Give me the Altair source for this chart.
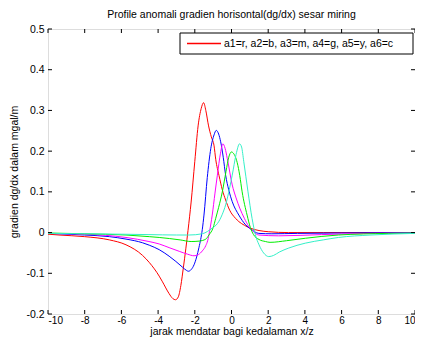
import altair as alt
import pandas as pd

# ---- data ----
red_x = [-10, -9.4, -8, -6.65, -5.75, -4.85, -4.47, -3.94, -3.76, -3.4, -3.2, -3.05, -2.9, -2.76, -2.62,
         -2.49, -2.37, -2.2, -2.0, -1.82, -1.65, -1.52, -1.4, -1.25, -1.1, -0.95, -0.86, -0.68, -0.5,
         -0.32, -0.1, 0.22, 0.4, 0.7, 1.04, 1.5, 2.03, 3.1, 5, 7, 10]
red_y = [-0.004, -0.006, -0.010, -0.018, -0.030, -0.056, -0.074, -0.107, -0.121, -0.150, -0.162, -0.165,
         -0.158, -0.130, -0.085, -0.040, 0.005, 0.075, 0.175, 0.262, 0.305, 0.319, 0.300, 0.262, 0.235,
         0.213, 0.18, 0.14, 0.105, 0.08, 0.055, 0.035, 0.027, 0.018, 0.0105, 0.005, 0.002, 0.0, 0.0, 0.0, 0.0]

blue_x = [-10, -9.37, -8, -6.65, -5.75, -4.85, -4.48, -3.94, -3.4, -3.03, -2.67, -2.45, -2.35, -2.2, -2.04,
          -1.9, -1.77, -1.59, -1.5, -1.32, -1.13, -0.95, -0.83, -0.7, -0.59, -0.45, -0.32, -0.15, 0.04,
          0.4, 0.77, 1.04, 1.49, 2.2, 3.6, 6, 10]
blue_y = [-0.002, -0.003, -0.006, -0.010, -0.016, -0.025, -0.031, -0.042, -0.058, -0.071, -0.085, -0.093,
          -0.095, -0.091, -0.079, -0.060, -0.036, 0.008, 0.043, 0.135, 0.206, 0.240, 0.251, 0.242, 0.223,
          0.185, 0.141, 0.105, 0.076, 0.043, 0.019, 0.009, -0.002, -0.003, -0.002, -0.001, 0.0]

mag_x = [-10, -8, -5.75, -4.5, -3.94, -3.4, -2.85, -2.4, -2.04, -1.8, -1.59, -1.4, -1.3, -1.2, -1.05,
         -0.9, -0.77, -0.6, -0.47, -0.35, -0.23, 0.04, 0.25, 0.45, 0.7, 0.94, 1.2, 1.49, 2.57, 4.9, 7.6, 10]
mag_y = [-0.002, -0.004, -0.012, -0.022, -0.028, -0.037, -0.046, -0.053, -0.057, -0.054, -0.045, -0.032,
         -0.020, 0.002, 0.043, 0.097, 0.141, 0.195, 0.218, 0.207, 0.182, 0.117, 0.085, 0.060, 0.035, 0.015,
         0.002, -0.006, -0.008, -0.005, -0.002, -0.001]

green_x = [-10, -8, -5.75, -4.48, -3.94, -2.8, -2.2, -1.77, -1.4, -1.23, -1.0, -0.86, -0.7, -0.5, -0.3,
           -0.15, 0.0, 0.1, 0.31, 0.45, 0.58, 0.85, 1.03, 1.2, 1.5, 1.85, 2.1, 3.0, 4.02, 5.83, 8.54, 10]
green_y = [-0.001, -0.003, -0.006, -0.010, -0.012, -0.018, -0.022, -0.021, -0.016, -0.006, 0.012, 0.035,
           0.062, 0.100, 0.150, 0.185, 0.198, 0.195, 0.172, 0.140, 0.100, 0.043, 0.012, -0.005, -0.017,
           -0.022, -0.024, -0.020, -0.014, -0.006, -0.002, -0.001]

cyan_x = [-10, -6, -4.5, -3, -2.31, -1.59, -1.3, -1.05, -0.77, -0.5, -0.32, -0.1, 0.04, 0.25, 0.44, 0.55,
          0.67, 0.9, 1.12, 1.3, 1.5, 1.75, 2.03, 2.3, 2.6, 3.12, 4.02, 5.0, 5.83, 7.6, 10]
cyan_y = [-0.002, -0.004, -0.005, -0.006, -0.006, -0.003, 0.003, 0.011, 0.022, 0.045, 0.068, 0.110, 0.141,
          0.192, 0.218, 0.210, 0.174, 0.100, 0.035, -0.005, -0.030, -0.050, -0.059, -0.056, -0.048, -0.038,
          -0.026, -0.018, -0.012, -0.006, -0.002]

series_names = ["a1", "a2", "a3", "a4", "a6"]
series_colors = ["#ff0000", "#0000ff", "#ff00ff", "#00ee00", "#33f0c8"]
series_x = [red_x, blue_x, mag_x, green_x, cyan_x]
series_y = [red_y, blue_y, mag_y, green_y, cyan_y]

x_ticks = [-10, -8, -6, -4, -2, 0, 2, 4, 6, 8, 10]
y_ticks = [-0.2, -0.1, 0, 0.1, 0.2, 0.3, 0.4, 0.5]

title_text = "Profile anomali gradien horisontal(dg/dx) sesar miring"
x_title = "jarak mendatar bagi kedalaman x/z"
y_title = "gradien dg/dx dalam mgal/m"
legend_text = "a1=r, a2=b, a3=m, a4=g, a5=y, a6=c"

# ---- build ----
W, H = 367, 285
FONT = "Liberation Sans"
FS = 10.5

rows = []
for i, (nm, xs, ys) in enumerate(zip(series_names, series_x, series_y)):
    for j, (a, b) in enumerate(zip(xs, ys)):
        rows.append({"s": nm, "order": i, "i": j, "x": a, "y": b})
df = pd.DataFrame(rows)

xscale = alt.Scale(domain=[-10, 10], nice=False)
yscale = alt.Scale(domain=[-0.2, 0.5], nice=False)

xaxis = alt.Axis(values=x_ticks, ticks=False, domain=False, grid=False, labelPadding=1,
                 labelOverlap=False, labelFont=FONT, labelFontSize=10, labelColor="black",
                 labelExpr="toString(datum.value)", title=x_title,
                 titleBaseline="alphabetic", titleY=20,
                 titleFont=FONT, titleFontSize=FS, titleFontWeight="normal", titleColor="black")
yaxis = alt.Axis(values=y_ticks, ticks=False, domain=False, grid=False, labelPadding=4,
                 labelOverlap=False, labelFont=FONT, labelFontSize=FS, labelColor="black",
                 labelExpr="datum.value == 0 ? '0' : toString(round(datum.value*10)/10)",
                 title=y_title, titlePadding=6,
                 titleFont=FONT, titleFontSize=FS, titleFontWeight="normal", titleColor="black")

lines = alt.Chart(df).mark_line(strokeWidth=1, interpolate="monotone", clip=True).encode(
    x=alt.X("x:Q", scale=xscale, axis=xaxis, title=x_title),
    y=alt.Y("y:Q", scale=yscale, axis=yaxis, title=y_title),
    color=alt.Color("s:N", scale=alt.Scale(domain=series_names, range=series_colors), legend=None),
    detail="s:N",
    order="i:Q",
)

xt = pd.DataFrame({"x": x_ticks})
yt = pd.DataFrame({"y": y_ticks})
tick_b = alt.Chart(xt).mark_rule(color="black", strokeWidth=1).encode(
    x=alt.X("x:Q", scale=xscale, axis=xaxis, title=x_title), y=alt.value(H), y2=alt.value(H - 4))
tick_t = alt.Chart(xt).mark_rule(color="black", strokeWidth=1).encode(
    x=alt.X("x:Q", scale=xscale, axis=xaxis, title=x_title), y=alt.value(0), y2=alt.value(4))
tick_l = alt.Chart(yt).mark_rule(color="black", strokeWidth=1).encode(
    y=alt.Y("y:Q", scale=yscale, axis=yaxis, title=y_title), x=alt.value(0), x2=alt.value(4))
tick_r = alt.Chart(yt).mark_rule(color="black", strokeWidth=1).encode(
    y=alt.Y("y:Q", scale=yscale, axis=yaxis, title=y_title), x=alt.value(W), x2=alt.value(W - 4))

leg = pd.DataFrame({"t": [legend_text]})
leg_box = alt.Chart(leg).mark_rect(fill="white", stroke="black", strokeWidth=1).encode(
    x=alt.value(132), x2=alt.value(365), y=alt.value(4), y2=alt.value(25))
leg_line = alt.Chart(leg).mark_rule(stroke="#ff0000", strokeWidth=1.3).encode(
    x=alt.value(139), x2=alt.value(173), y=alt.value(14.5), color=alt.value("#ff0000"))
leg_txt = alt.Chart(leg).mark_text(align="left", baseline="middle", font=FONT, fontSize=FS,
                                     color="black").encode(
    x=alt.value(176), y=alt.value(14.5), text="t:N")

chart = alt.layer(lines, tick_b, tick_t, tick_l, tick_r, leg_box, leg_line, leg_txt).properties(
    width=W, height=H,
    title=alt.TitleParams(title_text, font=FONT, fontSize=FS, fontWeight="normal", anchor="middle",
                          offset=4, color="black"),
    autosize=alt.AutoSizeParams(type="none"),
    padding={"left": 40, "top": 21, "right": 0, "bottom": 23},
).configure_view(stroke="black", strokeWidth=1).configure(background="white")

chart.save("out.html", embed_options={"renderer": "svg", "actions": False})
